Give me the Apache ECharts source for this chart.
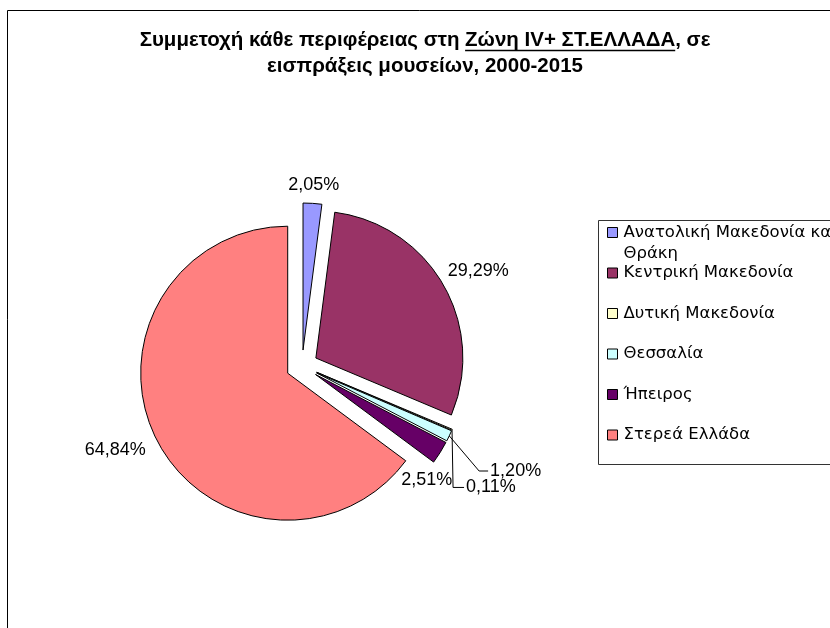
<!DOCTYPE html>
<html>
<head>
<meta charset="utf-8">
<script src="https://cdn.jsdelivr.net/npm/echarts@6/dist/echarts.min.js"></script>
<style>
  html, body { margin: 0; padding: 0; background: #fff; }
  #chart { width: 830px; height: 628px; }
</style>
</head>
<body>
<div id="chart"></div>
<script>
// δεδομένα
const regions = ["Ανατολική Μακεδονία και Θράκη", "Κεντρική Μακεδονία", "Δυτική Μακεδονία", "Θεσσαλία", "Ήπειρος", "Στερεά Ελλάδα"];
const shares = [2.05, 29.29, 0.11, 1.20, 2.51, 64.84];
const colors = ["#9999FF", "#993366", "#FFFFCC", "#CCFFFF", "#660066", "#FF8080"];

const titleLine1 = ["Συμμετοχή κάθε περιφέρειας στη ", "Ζώνη IV+ ΣΤ.ΕΛΛΑΔΑ", ", σε"];
const titleLine2 = "εισπράξεις μουσείων, 2000-2015";

// μετατόπιση ετικετών (σαν το excel)
const labelNudge = [[-30, -6], [-11, -8], [-2, 53], [25, 30], [-54, 21], [5, 5]];
// γραμμές οδηγοί: πόσο πριν την ετικέτα γίνεται η γωνία
const leaderRun = { 2: 13, 3: 11 };

const FONT = "'Liberation Sans', Arial, sans-serif";
const LEGEND_FONT = "'DejaVu Sans', sans-serif";
const titleFont = "bold 20.5px " + FONT;
const titleX = 425;
const titleLineY = 40;

// μέτρηση για την υπογράμμιση
function measure(text, font) {
  const ctx = document.createElement("canvas").getContext("2d");
  ctx.font = font;
  return ctx.measureText(text).width;
}
const fullW = measure(titleLine1.join(""), titleFont);
const preW = measure(titleLine1[0], titleFont);
const ulW = measure(titleLine1[1], titleFont);
const ulX = titleX - fullW / 2 + preW;

const pieData = regions.map((name, i) => ({
  name: name,
  value: shares[i],
  selected: true,
  itemStyle: { color: colors[i] },
  labelLine: { show: leaderRun[i] != null },
}));

function placeLabel(p) {
  const nudge = labelNudge[p.dataIndex];
  const out = { dx: nudge[0], dy: nudge[1] };
  const run = leaderRun[p.dataIndex];
  const pts = p.labelLinePoints;
  if (run != null && pts && pts.length > 1) {
    const left = p.labelRect.x + nudge[0];
    const midY = p.labelRect.y + p.labelRect.height / 2 + nudge[1];
    out.labelLinePoints = [pts[0], [left - run, midY], [left - 2, midY]];
  }
  return out;
}

const legendCommon = {
  orient: "vertical",
  left: 607,
  padding: 0,
  itemWidth: 12,
  itemHeight: 10,
  icon: "path://M0 0H10V10H0Z",
  itemStyle: { borderColor: "#000", borderWidth: 1 },
  selectedMode: false,
};
const legendText = { fontFamily: LEGEND_FONT, fontSize: 16.5, color: "#000", lineHeight: 20 };

const chart = echarts.init(document.getElementById("chart"));
chart.setOption({
  animation: false,
  textStyle: { fontFamily: FONT },
  title: {
    text: titleLine1.join("") + "\n" + titleLine2,
    left: titleX - 5,
    top: titleLineY - 13 - 5,
    textAlign: "center",
    textStyle: { fontFamily: FONT, fontWeight: "bold", fontSize: 20.5, lineHeight: 26, color: "#000" },
  },
  graphic: [
    {
      type: "rect",
      shape: { x: 7.5, y: 10.5, width: 900, height: 700 },
      style: { fill: "none", stroke: "#000", lineWidth: 1 },
      silent: true,
    },
    {
      type: "rect",
      shape: { x: 598.5, y: 220.5, width: 300, height: 244 },
      style: { fill: "none", stroke: "#333", lineWidth: 1 },
      silent: true,
    },
    {
      type: "line",
      shape: { x1: ulX, y1: titleLineY + 10.5, x2: ulX + ulW, y2: titleLineY + 10.5 },
      style: { stroke: "#000", lineWidth: 1.6 },
      silent: true,
    },
  ],
  legend: [
    Object.assign({}, legendCommon, {
      top: 224,
      data: [regions[0]],
      formatter: (name) =>
        name.replace("και ", "και\n").split("\n").map((s) => "{a|" + s + "}").join("\n"),
      textStyle: {
        padding: [21, 0, 0, 0],
        rich: { a: { fontFamily: LEGEND_FONT, fontSize: 16.5, color: "#000", lineHeight: 21 } },
      },
    }),
    Object.assign({}, legendCommon, {
      top: 263,
      itemGap: 20.5,
      data: regions.slice(1),
      textStyle: legendText,
    }),
  ],
  series: [
    {
      type: "pie",
      center: [302, 366],
      radius: 147,
      startAngle: 90,
      clockwise: true,
      selectedMode: "multiple",
      selectedOffset: 16,
      avoidLabelOverlap: false,
      itemStyle: { borderColor: "#000", borderWidth: 1 },
      select: { itemStyle: { borderColor: "#000", borderWidth: 1 } },
      emphasis: { disabled: true },
      label: {
        show: true,
        position: "outside",
        fontFamily: FONT,
        fontSize: 18,
        color: "#000",
        formatter: (p) => p.value.toFixed(2).replace(".", ",") + "%",
      },
      labelLine: { show: false, length: 12, length2: 0, lineStyle: { color: "#000", width: 1 } },
      labelLayout: placeLabel,
      data: pieData,
    },
  ],
});
</script>
</body>
</html>
